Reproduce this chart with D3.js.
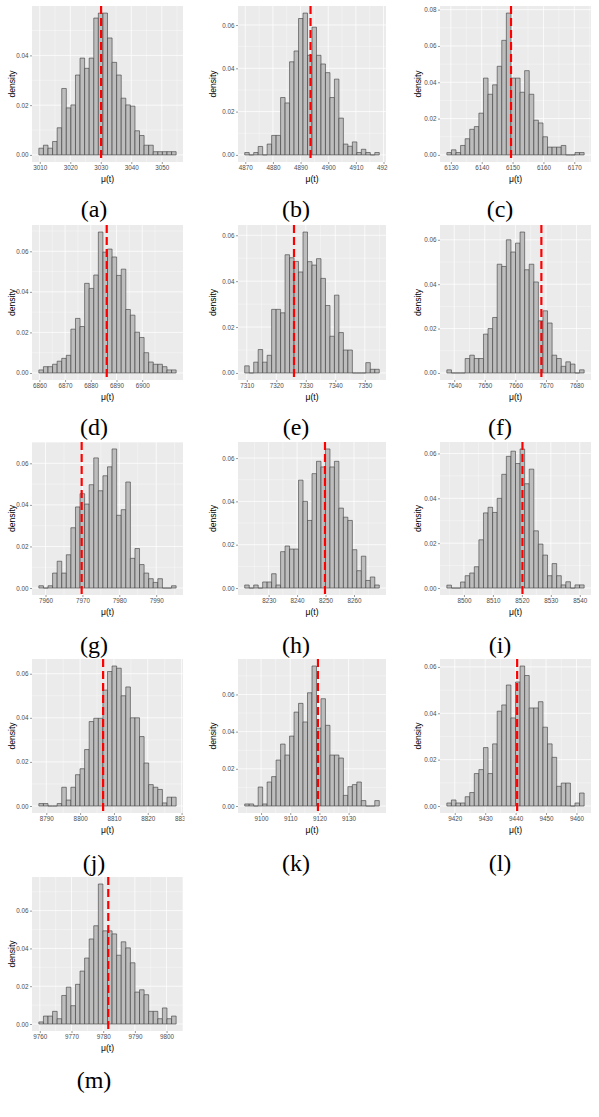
<!DOCTYPE html>
<html>
<head>
<meta charset="utf-8">
<script src="https://cdn.jsdelivr.net/npm/d3@7"></script>
<style>
body { margin: 0; background: #fff; }
svg text { font-family: "Liberation Sans", Arial, sans-serif; }
</style>
</head>
<body>
<div id="chart"></div>
<script>
// sub-figure captions
var captions = ["(a)", "(b)", "(c)", "(d)", "(e)", "(f)", "(g)", "(h)", "(i)", "(j)", "(k)", "(l)", "(m)"];

// left edge of first bin and bin width (30 bins each)
var binStart = [3009.7, 4869.8, 6128.7, 6859.8, 7309.3, 7637.6, 7958.2, 8221.6, 8494.1, 8787.8, 9094.4, 9417.4, 9759.7];
var binWidth = [1.5, 1.622, 1.483, 1.78, 1.52, 1.496, 1.24, 1.576, 1.58, 1.353, 1.537, 1.504, 1.444];

// red dashed reference value
var refLine = [3030.1, 4893.6, 6149.5, 6886.2, 7326.0, 7668.5, 7969.8, 8249.8, 8520.2, 8806.8, 9119.5, 9440.5, 9781.6];

var xTicks = [
  [3010, 3020, 3030, 3040, 3050],
  [4870, 4880, 4890, 4900, 4910, 4920],
  [6130, 6140, 6150, 6160, 6170],
  [6860, 6870, 6880, 6890, 6900],
  [7310, 7320, 7330, 7340, 7350],
  [7640, 7650, 7660, 7670, 7680],
  [7960, 7970, 7980, 7990],
  [8230, 8240, 8250, 8260],
  [8500, 8510, 8520, 8530, 8540],
  [8790, 8800, 8810, 8820, 8830],
  [9100, 9110, 9120, 9130],
  [9420, 9430, 9440, 9450, 9460],
  [9760, 9770, 9780, 9790, 9800]
];

var yTicks = [
  [0, 0.02, 0.04],
  [0, 0.02, 0.04, 0.06],
  [0, 0.02, 0.04, 0.06, 0.08],
  [0, 0.02, 0.04, 0.06],
  [0, 0.02, 0.04, 0.06],
  [0, 0.02, 0.04, 0.06],
  [0, 0.02, 0.04, 0.06],
  [0, 0.02, 0.04, 0.06],
  [0, 0.02, 0.04, 0.06],
  [0, 0.02, 0.04, 0.06],
  [0, 0.02, 0.04, 0.06],
  [0, 0.02, 0.04, 0.06],
  [0, 0.02, 0.04, 0.06]
];

// bin densities
var densA = [0.0027,0.0039,0.0027,0.0054,0.0109,0.0267,0.0189,0.0201,0.0321,0.0389,0.0348,0.0389,0.0550,0.0570,0.0570,0.0470,0.0372,0.0321,0.0228,0.0201,0.0196,0.0097,0.0078,0.0039,0.0039,0.0013,0.0013,0.0013,0.0013,0.0013];
var densB = [0.0011,0,0.0011,0.0039,0,0.005,0.009,0.009,0.0265,0.024,0.043,0.048,0.063,0.0655,0.046,0.059,0.046,0.042,0.038,0.0265,0.035,0.017,0.005,0.004,0.006,0.0011,0.0026,0.0011,0,0.0011];
var densC = [0.0013,0.0028,0.0013,0.0052,0.0089,0.0141,0.0156,0.023,0.0423,0.0334,0.0386,0.0488,0.0631,0.0781,0.0423,0.0423,0.0345,0.0464,0.0334,0.0191,0.0176,0.010,0.0043,0.0043,0.0043,0.0052,0,0,0.0013,0.0013];
var densD = [0.0015,0.0031,0.0031,0.0043,0.0058,0.0072,0.0087,0.0216,0.0269,0.0229,0.0442,0.0417,0.0483,0.0695,0.0596,0.0611,0.0572,0.0481,0.0512,0.0313,0.0285,0.0201,0.0175,0.0100,0.0054,0.0043,0.0043,0.0031,0.0015,0.0015];
var densE = [0.0031,0,0.0047,0.0102,0.0047,0.0077,0.0277,0.0277,0.0262,0.0515,0.0502,0.0486,0.044,0.0614,0.0485,0.047,0.0498,0.0412,0.0294,0.016,0.0339,0.0176,0.010,0.010,0,0,0,0.0045,0.0016,0.0016];
var densF = [0.0014,0,0,0,0.0065,0.008,0.0065,0.0065,0.0175,0.020,0.025,0.049,0.048,0.060,0.0545,0.0585,0.0635,0.0465,0.049,0.041,0.0235,0.028,0.0225,0.008,0.0065,0.003,0.005,0.004,0,0.0014];
var densG = [0.0011,0,0.0011,0.0072,0.0129,0.0072,0.016,0.029,0.039,0.0454,0.0404,0.0497,0.0626,0.0468,0.054,0.0583,0.0669,0.035,0.0377,0.051,0.0143,0.019,0.0113,0.0072,0.0045,0.0027,0.0045,0,0,0.0011];
var densH = [0.0014,0,0.0014,0,0.0028,0.0028,0.0066,0.0014,0.0168,0.0194,0.018,0.018,0.0498,0.040,0.0312,0.0528,0.0585,0.0559,0.0642,0.0559,0.0585,0.0369,0.0327,0.0312,0.0177,0.008,0.0147,0.0035,0.0051,0.0014];
var densI = [0.0013,0,0,0.0027,0.0055,0.0067,0.0095,0.0215,0.0335,0.036,0.0337,0.040,0.0507,0.0587,0.061,0.0555,0.062,0.0465,0.053,0.0255,0.0196,0.0147,0.0055,0.0109,0.0055,0.0014,0.0028,0,0.0014,0.0014];
var densJ = [0.0011,0.0011,0,0,0.0011,0.0085,0.0027,0.0085,0.0142,0.0169,0.0256,0.0383,0.0398,0.0398,0.0526,0.061,0.0635,0.0625,0.050,0.054,0.040,0.040,0.0315,0.0195,0.0097,0.0085,0.0075,0.0014,0.004,0.004];
var densK = [0.0011,0.0011,0,0.0102,0.0011,0.0129,0.0158,0.0247,0.0333,0.0274,0.0376,0.0505,0.0552,0.0452,0.0609,0.0753,0.0419,0.0577,0.0434,0.0274,0.0274,0.0258,0.0057,0.0104,0.0115,0.0129,0.0029,0,0,0.0029];
var densL = [0.0013,0.0026,0.0013,0.0013,0.004,0.0058,0.014,0.0157,0.0252,0.014,0.0268,0.0409,0.0436,0.0522,0.038,0.0535,0.0604,0.0563,0.0423,0.0423,0.045,0.034,0.0268,0.021,0.0085,0.0099,0.0099,0,0.0013,0.0056];
var densM = [0.0011,0.0042,0.0042,0.0067,0.0028,0.0151,0.0195,0.0097,0.021,0.028,0.0349,0.045,0.052,0.0741,0.0493,0.0493,0.0477,0.0364,0.0435,0.0403,0.0324,0.0169,0.0181,0.0155,0.0067,0.0067,0.0028,0.0085,0.0028,0.0042];

var densities = [densA, densB, densC, densD, densE, densF, densG, densH, densI, densJ, densK, densL, densM];

// panel layout (page pixels)
var cols = [
  {l: 32, r: 183, cx: 94, dx: 12},
  {l: 238, r: 386, cx: 296, dx: 213},
  {l: 440, r: 591, cx: 500, dx: 418}
];
var rows = [
  {t: 6, b: 162, cy: 209},
  {t: 225, b: 380, cy: 427},
  {t: 442, b: 595, cy: 645},
  {t: 659, b: 813, cy: 863},
  {t: 877, b: 1031, cy: 1080}
];

var svg = d3.select("#chart").append("svg")
    .attr("width", 599)
    .attr("height", 1117);

// minor breaks halfway between major ones, ggplot style
function minorBreaks(ticks, domain) {
  var step = ticks.length > 1 ? ticks[1] - ticks[0] : 1;
  var out = [];
  for (var k = -1; k < ticks.length; k++) {
    var m = ticks[0] + (k + 0.5) * step;
    if (m >= domain[0] && m <= domain[1]) out.push(m);
  }
  return out;
}

densities.forEach(function(dens, i) {
  var c = cols[i % 3], r = rows[Math.floor(i / 3)];
  var w = c.r - c.l, h = r.b - r.t;
  var x0 = binStart[i], bw = binWidth[i];
  var x1 = x0 + bw * dens.length;
  var pad = (x1 - x0) * 0.05;

  var x = d3.scaleLinear().domain([x0 - pad, x1 + pad]).range([0, w]);
  var ymax = d3.max(dens);
  var y = d3.scaleLinear().domain([-ymax * 0.05, ymax * 1.05]).range([h, 0]);

  // each sub-figure is cut at its right edge (long tick labels get clipped)
  svg.append("clipPath").attr("id", "clip" + i)
    .append("rect")
    .attr("x", c.l - 40).attr("y", r.t - 10)
    .attr("width", w + 41.5).attr("height", h + 60);

  var g = svg.append("g")
      .attr("clip-path", "url(#clip" + i + ")")
    .append("g")
      .attr("transform", "translate(" + c.l + "," + r.t + ")");

  g.append("rect")
    .attr("width", w).attr("height", h)
    .attr("fill", "#ebebeb");

  // grid
  var xMinor = minorBreaks(xTicks[i], x.domain());
  var yMinor = minorBreaks(yTicks[i], y.domain());

  g.selectAll(".xminor").data(xMinor).join("line")
    .attr("x1", d => x(d)).attr("x2", d => x(d))
    .attr("y1", 0).attr("y2", h)
    .attr("stroke", "#fff").attr("stroke-width", 0.35);
  g.selectAll(".yminor").data(yMinor).join("line")
    .attr("y1", d => y(d)).attr("y2", d => y(d))
    .attr("x1", 0).attr("x2", w)
    .attr("stroke", "#fff").attr("stroke-width", 0.35);
  g.selectAll(".xmajor").data(xTicks[i]).join("line")
    .attr("x1", d => x(d)).attr("x2", d => x(d))
    .attr("y1", 0).attr("y2", h)
    .attr("stroke", "#fff").attr("stroke-width", 0.75);
  g.selectAll(".ymajor").data(yTicks[i]).join("line")
    .attr("y1", d => y(d)).attr("y2", d => y(d))
    .attr("x1", 0).attr("x2", w)
    .attr("stroke", "#fff").attr("stroke-width", 0.75);

  // histogram bars (paths so empty bins still show their outline)
  g.selectAll(".bar").data(dens).join("path")
    .attr("d", function(d, k) {
      var a = x(x0 + k * bw), b = x(x0 + (k + 1) * bw);
      return "M" + a + "," + y(0) + "V" + y(d) + "H" + b + "V" + y(0) + "Z";
    })
    .attr("fill", "#bdbdbd")
    .attr("stroke", "#3a3a3a")
    .attr("stroke-width", 0.6);

  g.append("line")
    .attr("x1", x(refLine[i])).attr("x2", x(refLine[i]))
    .attr("y1", 0).attr("y2", h)
    .attr("stroke", "red")
    .attr("stroke-width", 2.2)
    .attr("stroke-dasharray", "8,4");

  // axes
  var xAxis = g.append("g")
    .attr("transform", "translate(0," + h + ")")
    .call(d3.axisBottom(x).tickValues(xTicks[i]).tickSize(2).tickPadding(1.2).tickFormat(d3.format("d")));
  var yAxis = g.append("g")
    .call(d3.axisLeft(y).tickValues(yTicks[i]).tickSize(2).tickPadding(1.5).tickFormat(d3.format(".2f")));

  [xAxis, yAxis].forEach(function(ax) {
    ax.select(".domain").remove();
    ax.selectAll(".tick line").attr("stroke", "#333").attr("stroke-width", 0.5);
    ax.selectAll(".tick text")
      .attr("fill", "#4d4d4d")
      .style("font-size", "6.3px");
  });

  g.append("text")
    .attr("x", w / 2).attr("y", h + 17)
    .attr("text-anchor", "middle")
    .attr("dominant-baseline", "central")
    .style("font-size", "8.6px")
    .text("\u03bc(t)");

  svg.append("text")
    .attr("transform", "translate(" + c.dx + "," + (r.t + h / 2) + ") rotate(-90)")
    .attr("text-anchor", "middle")
    .attr("dominant-baseline", "central")
    .style("font-size", "8.6px")
    .text("density");

  svg.append("text")
    .attr("x", c.cx).attr("y", r.cy)
    .attr("text-anchor", "middle")
    .attr("dominant-baseline", "central")
    .style("font-family", "'Liberation Serif', 'DejaVu Serif', serif")
    .style("font-size", "24px")
    .text(captions[i]);
});
</script>
</body>
</html>
